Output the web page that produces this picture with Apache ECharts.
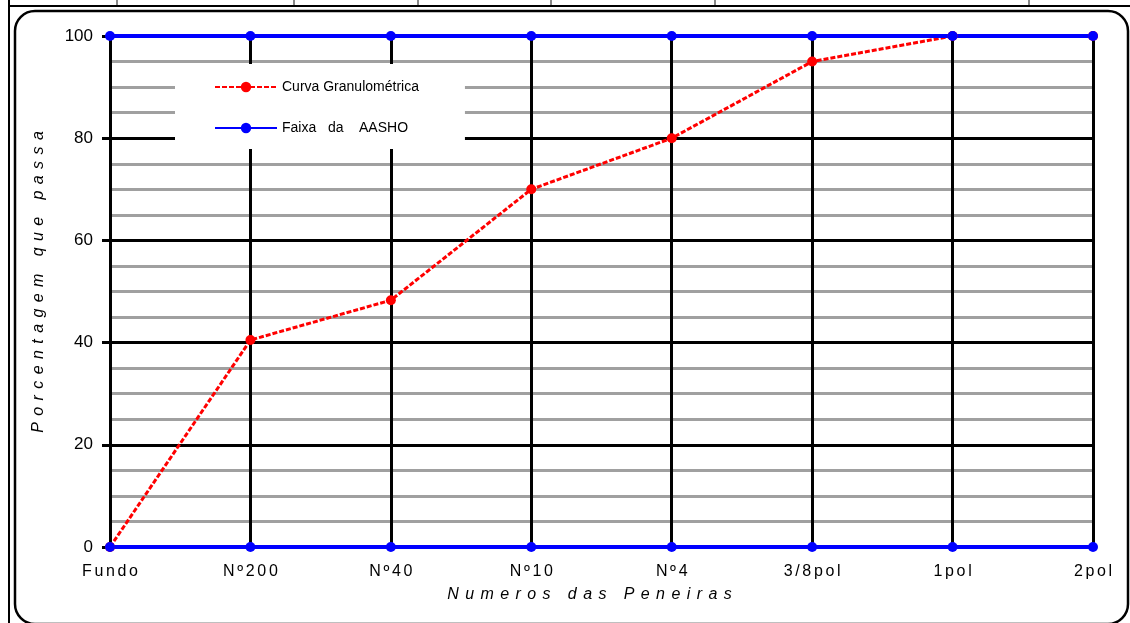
<!DOCTYPE html>
<html>
<head>
<meta charset="utf-8">
<script src="https://cdn.jsdelivr.net/npm/echarts@6/dist/echarts.min.js"></script>
<style>
  html, body { margin: 0; padding: 0; background: #fff; }
  #chart { width: 1130px; height: 623px; }
</style>
</head>
<body>
<div id="chart"></div>
<script>
// Sieve openings along the horizontal axis
const sieves = ['Fundo', 'Nº 200', 'Nº 40', 'Nº 10', 'Nº 4', '3/8 pol', '1 pol', '2 pol'];
// Percentage passing each sieve (grain size curve)
const passing = [0, 40.5, 48.3, 70, 80, 95, 100, 100];
// AASHO band limits
const aashoUpper = [100, 100, 100, 100, 100, 100, 100, 100];
const aashoLower = [0, 0, 0, 0, 0, 0, 0, 0];
// Axis titles and series names
const xTitle = 'Numeros das Peneiras';
const yTitle = 'Porcentagem que passa';
const curveName = 'Curva Granulométrica';
const bandName = 'Faixa   da    AASHO';

const FONT = "'Liberation Sans', Arial, sans-serif";
const THIN = '\u2009';
const NARROW = '\u2006';

// widen text the way the spreadsheet renderer spaces its letters
function spaced(text, gap) {
  return text.split(' ').map(w => w.split('').join(gap)).join(' ' + gap + gap);
}

const chart = echarts.init(document.getElementById('chart'), null, { renderer: 'canvas' });

const lineBase = { type: 'line', symbol: 'circle', symbolSize: 10, clip: false, animation: false };

chart.setOption({
  backgroundColor: '#fff',
  animation: false,
  grid: { left: 110, right: 37, top: 36, bottom: 76 },
  legend: {
    orient: 'vertical',
    left: 175,
    top: 64,
    padding: [16, 46, 14, 39],
    itemGap: 27,
    itemWidth: 62,
    itemHeight: 13,
    backgroundColor: '#fff',
    selectedMode: false,
    textStyle: { fontFamily: FONT, fontSize: 14, color: '#000', lineHeight: 13 },
    data: [curveName, bandName]
  },
  xAxis: {
    type: 'category',
    data: sieves,
    boundaryGap: false,
    z: 1,
    axisLine: { show: false },
    axisTick: { show: false },
    axisLabel: {
      margin: 17,
      fontFamily: FONT,
      fontSize: 16,
      color: '#000',
      formatter: v => v.replace(/ /g, '').split('').join(NARROW)
    },
    splitLine: { show: true, lineStyle: { color: '#000', width: 3 } },
    name: spaced(xTitle, THIN + THIN),
    nameLocation: 'middle',
    nameGap: 40,
    nameTextStyle: {
      fontFamily: FONT, fontSize: 16, fontStyle: 'italic', color: '#000',
      padding: [0, 24, 0, 0]
    }
  },
  yAxis: {
    type: 'value',
    min: 0,
    max: 100,
    interval: 20,
    z: 0,
    axisLine: { show: true, lineStyle: { color: '#000', width: 3 } },
    axisTick: { show: true, length: 8, lineStyle: { color: '#000', width: 3 } },
    axisLabel: { margin: 17, fontFamily: FONT, fontSize: 17, color: '#000' },
    splitLine: { show: true, lineStyle: { color: '#000', width: 3 } },
    minorTick: { show: false, splitNumber: 4 },
    minorSplitLine: { show: true, lineStyle: { color: '#a0a0a0', width: 3 } },
    name: spaced(yTitle, THIN + THIN),
    nameLocation: 'middle',
    nameGap: 63,
    nameTextStyle: {
      fontFamily: FONT, fontSize: 16, fontStyle: 'italic', color: '#000',
      padding: [0, 0, 0, 19]
    }
  },
  series: [
    Object.assign({}, lineBase, {
      name: curveName,
      data: passing,
      itemStyle: { color: '#ff0000' },
      lineStyle: { color: '#ff0000', width: 3, type: [5, 2] }
    }),
    Object.assign({}, lineBase, {
      name: bandName,
      data: aashoUpper,
      itemStyle: { color: '#0000ff' },
      lineStyle: { color: '#0000ff', width: 4 }
    }),
    Object.assign({}, lineBase, {
      name: bandName,
      data: aashoLower,
      itemStyle: { color: '#0000ff' },
      lineStyle: { color: '#0000ff', width: 4 }
    })
  ],
  graphic: {
    elements: [
      // spreadsheet cell borders above the chart object
      { type: 'line', silent: true, shape: { x1: 9, y1: 6, x2: 1130, y2: 6 }, style: { stroke: '#000', lineWidth: 2 } },
      { type: 'line', silent: true, shape: { x1: 9, y1: 0, x2: 9, y2: 623 }, style: { stroke: '#000', lineWidth: 2 } },
      { type: 'line', silent: true, shape: { x1: 117, y1: 0, x2: 117, y2: 5 }, style: { stroke: '#888', lineWidth: 2 } },
      { type: 'line', silent: true, shape: { x1: 294, y1: 0, x2: 294, y2: 5 }, style: { stroke: '#888', lineWidth: 2 } },
      { type: 'line', silent: true, shape: { x1: 418, y1: 0, x2: 418, y2: 5 }, style: { stroke: '#888', lineWidth: 2 } },
      { type: 'line', silent: true, shape: { x1: 551, y1: 0, x2: 551, y2: 5 }, style: { stroke: '#888', lineWidth: 2 } },
      { type: 'line', silent: true, shape: { x1: 715, y1: 0, x2: 715, y2: 5 }, style: { stroke: '#888', lineWidth: 2 } },
      { type: 'line', silent: true, shape: { x1: 1029, y1: 0, x2: 1029, y2: 5 }, style: { stroke: '#888', lineWidth: 2 } },
      // rounded chart frame
      { type: 'rect', silent: true, shape: { x: 15, y: 11, width: 1113, height: 613, r: 20 },
        style: { fill: 'none', stroke: '#000', lineWidth: 2.5 } }
    ]
  }
});
</script>
</body>
</html>
